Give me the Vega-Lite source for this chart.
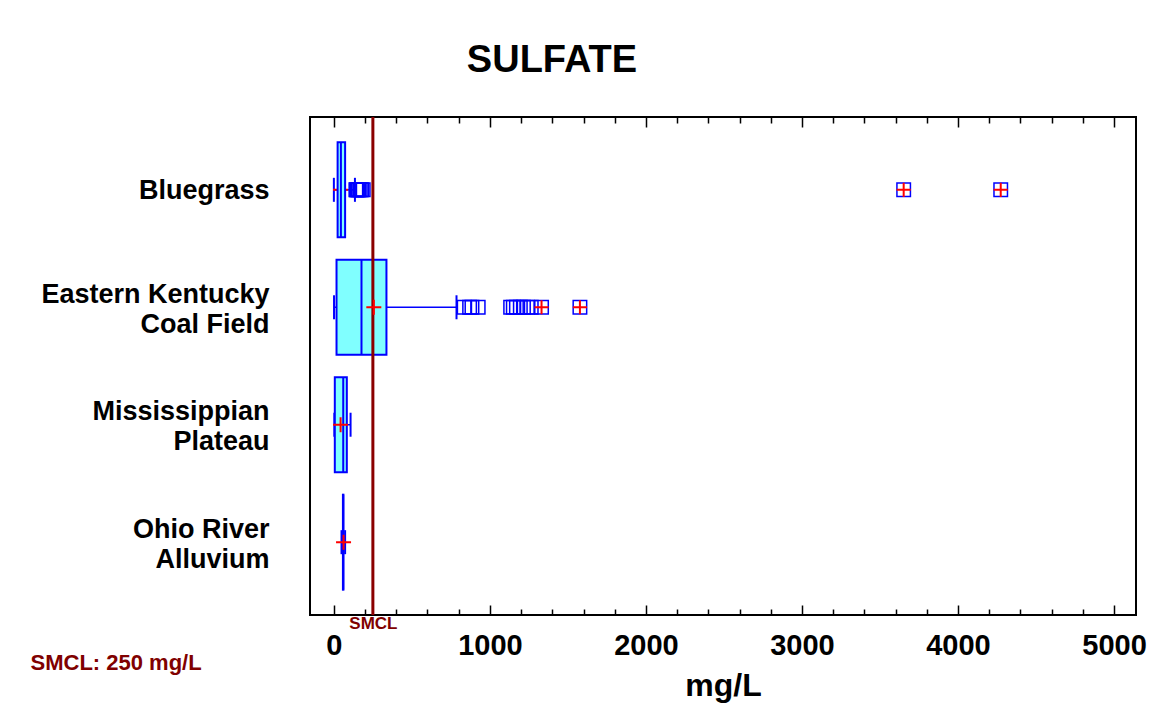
{
  "$schema": "https://vega.github.io/schema/vega-lite/v6.json",
  "autosize": {"type": "none"},
  "padding": {"left": 310, "top": 117, "right": 16, "bottom": 92},
  "width": 826,
  "height": 498,
  "background": "white",
  "config": {
    "view": {"stroke": "black", "strokeWidth": 2},
    "font": "Liberation Sans"
  },
  "title": {
    "text": "SULFATE",
    "fontSize": 38,
    "fontWeight": "bold",
    "font": "Liberation Sans",
    "color": "black",
    "anchor": "middle",
    "dx": -171,
    "baseline": "alphabetic",
    "offset": 6
  },
  "datasets": {
    "boxes": [
      {"region": "Bluegrass", "lo": 0, "q1": 24, "median": 45, "q3": 72, "hi": 135, "mean": 43},
      {"region": "Eastern Kentucky|Coal Field", "lo": 1, "q1": 17, "median": 177, "q3": 337, "hi": 786, "mean": 256},
      {"region": "Mississippian|Plateau", "lo": 3, "q1": 6, "median": 60, "q3": 83, "hi": 107, "mean": 43},
      {"region": "Ohio River|Alluvium", "lo": 49, "q1": 58, "median": 60, "q3": 61, "hi": 72, "mean": 62}
    ],
    "outliers": [
      {"region": "Bluegrass", "value": 141, "far": false},
      {"region": "Bluegrass", "value": 145, "far": false},
      {"region": "Bluegrass", "value": 150, "far": false},
      {"region": "Bluegrass", "value": 155, "far": false},
      {"region": "Bluegrass", "value": 160, "far": false},
      {"region": "Bluegrass", "value": 169, "far": false},
      {"region": "Bluegrass", "value": 178, "far": false},
      {"region": "Bluegrass", "value": 188, "far": false},
      {"region": "Bluegrass", "value": 3652, "far": true},
      {"region": "Bluegrass", "value": 4274, "far": true},
      {"region": "Eastern Kentucky|Coal Field", "value": 835, "far": false},
      {"region": "Eastern Kentucky|Coal Field", "value": 870, "far": false},
      {"region": "Eastern Kentucky|Coal Field", "value": 885, "far": false},
      {"region": "Eastern Kentucky|Coal Field", "value": 925, "far": false},
      {"region": "Eastern Kentucky|Coal Field", "value": 1133, "far": false},
      {"region": "Eastern Kentucky|Coal Field", "value": 1150, "far": false},
      {"region": "Eastern Kentucky|Coal Field", "value": 1170, "far": false},
      {"region": "Eastern Kentucky|Coal Field", "value": 1195, "far": false},
      {"region": "Eastern Kentucky|Coal Field", "value": 1215, "far": false},
      {"region": "Eastern Kentucky|Coal Field", "value": 1240, "far": false},
      {"region": "Eastern Kentucky|Coal Field", "value": 1265, "far": false},
      {"region": "Eastern Kentucky|Coal Field", "value": 1331, "far": true},
      {"region": "Eastern Kentucky|Coal Field", "value": 1577, "far": true}
    ],
    "smcl": [{"limit": 250}]
  },
  "resolve": {"scale": {"x": "shared", "y": "shared"}, "axis": {"x": "independent", "y": "shared"}},
  "layer": [
    {
      "data": {"name": "boxes"},
      "mark": {"type": "rule", "color": "#0000FF", "strokeWidth": 1.5},
      "encoding": {
        "y": {"field": "region", "type": "nominal", "scale": {"type": "point", "padding": 0.62, "domain": ["Bluegrass", "Eastern Kentucky|Coal Field", "Mississippian|Plateau", "Ohio River|Alluvium"]}, "sort": null,
          "axis": {"title": "SMCL:  250 mg/L", "titleAngle": 0, "titleX": -280, "titleY": 545, "titleAlign": "left", "titleBaseline": "middle", "titleColor": "#800000", "titleFontSize": 22, "titleFont": "Liberation Sans", "titleFontWeight": "bold",
            "labelExpr": "split(datum.label, '|')", "labelFontSize": 27, "labelLineHeight": 30, "labelPadding": 41, "labelLimit": 0, "ticks": false, "domain": false, "labelColor": "black", "labelFontWeight": "bold", "labelFont": "Liberation Sans", "labelBaseline": "middle", "grid": false,
            "labelOffset": {"condition": {"test": "datum.value == 'Bluegrass'", "value": 1}, "value": -13}}},
        "x": {"field": "lo", "type": "quantitative", "scale": {"domain": [-153, 5141], "nice": false, "zero": false},
          "axis": {"orient": "bottom", "values": [0, 1000, 2000, 3000, 4000, 5000], "tickSize": -10, "tickColor": "black", "tickWidth": 1.5, "domain": false, "grid": false,
            "labelFontSize": 29, "labelFontWeight": "bold", "labelFont": "Liberation Sans", "labelColor": "black", "labelPadding": 26, "labelFlush": false, "labelOverlap": false, "format": "d",
            "title": "mg/L", "titleFontSize": 32, "titleFontWeight": "bold", "titleFont": "Liberation Sans", "titleColor": "black", "titlePadding": 10}},
        "x2": {"field": "hi"}
      }
    },
    {
      "data": {"name": "boxes"},
      "mark": {"type": "tick", "color": "#0000FF", "size": 24, "thickness": 2, "opacity": 1},
      "encoding": {
        "y": {"field": "region", "type": "nominal", "sort": null},
        "x": {"field": "lo", "type": "quantitative",
          "axis": {"orient": "bottom", "values": [200, 400, 600, 800, 1200, 1400, 1600, 1800, 2200, 2400, 2600, 2800, 3200, 3400, 3600, 3800, 4200, 4400, 4600, 4800], "tickSize": -6, "tickColor": "black", "tickWidth": 1.5, "labels": false, "domain": false, "grid": false, "title": null}}
      }
    },
    {
      "data": {"name": "boxes"},
      "mark": {"type": "tick", "color": "#0000FF", "size": 24, "thickness": 2, "opacity": 1},
      "encoding": {
        "y": {"field": "region", "type": "nominal", "sort": null},
        "x": {"field": "hi", "type": "quantitative",
          "axis": {"orient": "top", "values": [0, 1000, 2000, 3000, 4000, 5000], "tickSize": -10, "tickColor": "black", "tickWidth": 1.5, "labels": false, "domain": false, "grid": false, "title": null}}
      }
    },
    {
      "data": {"name": "boxes"},
      "transform": [{"filter": "datum.region == 'Bluegrass'"}],
      "mark": {"type": "point", "shape": "M-1,0L1,0M0,-1L0,1", "filled": false, "stroke": "#FF0000", "strokeWidth": 2, "size": 225, "opacity": 1},
      "encoding": {
        "y": {"field": "region", "type": "nominal", "sort": null},
        "x": {"field": "mean", "type": "quantitative", "axis": null}
      }
    },
    {
      "data": {"name": "boxes"},
      "mark": {"type": "bar", "fill": "#80FFFF", "stroke": "#0000FF", "strokeWidth": 2, "size": 95, "opacity": 1},
      "encoding": {
        "y": {"field": "region", "type": "nominal", "sort": null},
        "x": {"field": "q1", "type": "quantitative",
          "axis": {"orient": "top", "values": [200, 400, 600, 800, 1200, 1400, 1600, 1800, 2200, 2400, 2600, 2800, 3200, 3400, 3600, 3800, 4200, 4400, 4600, 4800], "tickSize": -6, "tickColor": "black", "tickWidth": 1.5, "labels": false, "domain": false, "grid": false, "title": null}},
        "x2": {"field": "q3"}
      }
    },
    {
      "data": {"name": "boxes"},
      "mark": {"type": "tick", "color": "#0000FF", "size": 95, "thickness": 2, "opacity": 1},
      "encoding": {
        "y": {"field": "region", "type": "nominal", "sort": null},
        "x": {"field": "median", "type": "quantitative",
          "axis": {"orient": "bottom", "values": [250], "labelExpr": "'SMCL'", "ticks": false, "domain": false, "grid": false, "title": null, "labelColor": "#800000", "labelFontSize": 17, "labelFontWeight": "bold", "labelFont": "Liberation Sans", "labelPadding": 0, "labelBaseline": "top"}}
      }
    },
    {
      "data": {"name": "smcl"},
      "mark": {"type": "rule", "color": "#8B0000", "strokeWidth": 3},
      "encoding": {
        "x": {"field": "limit", "type": "quantitative", "axis": null}
      }
    },
    {
      "data": {"name": "boxes"},
      "transform": [{"filter": "datum.region != 'Bluegrass'"}],
      "mark": {"type": "point", "shape": "M-1,0L1,0M0,-1L0,1", "filled": false, "stroke": "#FF0000", "strokeWidth": 2, "size": 225, "opacity": 1},
      "encoding": {
        "y": {"field": "region", "type": "nominal", "sort": null},
        "x": {"field": "mean", "type": "quantitative", "axis": null}
      }
    },
    {
      "data": {"name": "outliers"},
      "mark": {"type": "point", "shape": "square", "filled": false, "stroke": "#0000FF", "strokeWidth": 1.5, "size": 182, "opacity": 1},
      "encoding": {
        "y": {"field": "region", "type": "nominal", "sort": null},
        "x": {"field": "value", "type": "quantitative", "axis": null}
      }
    },
    {
      "data": {"name": "outliers"},
      "transform": [{"filter": "datum.far"}],
      "mark": {"type": "point", "shape": "M-1,0L1,0M0,-1L0,1", "filled": false, "stroke": "#FF0000", "strokeWidth": 2, "size": 200, "opacity": 1},
      "encoding": {
        "y": {"field": "region", "type": "nominal", "sort": null},
        "x": {"field": "value", "type": "quantitative", "axis": null}
      }
    }
  ]
}
